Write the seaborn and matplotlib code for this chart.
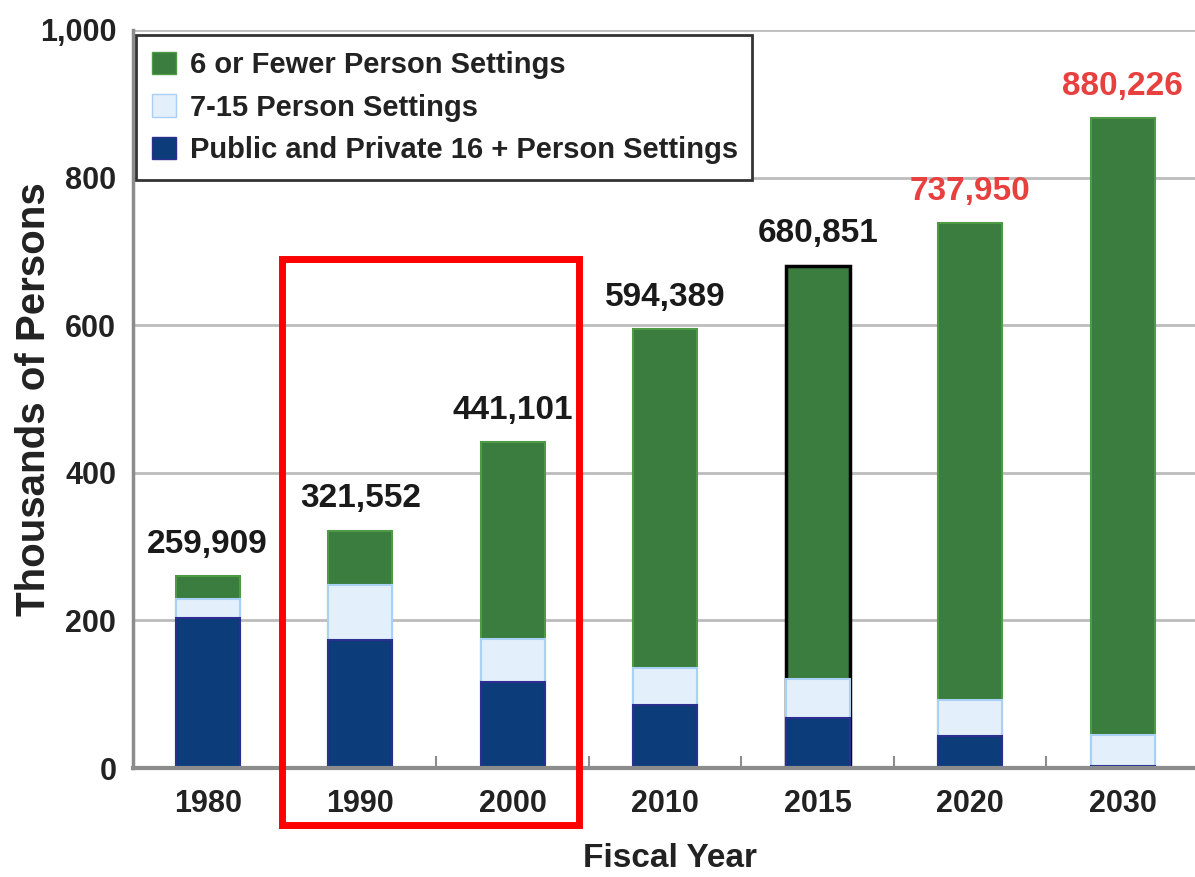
import matplotlib
matplotlib.use("Agg")
import matplotlib.pyplot as plt
import seaborn as sns
from matplotlib.patches import Rectangle, Patch
from matplotlib.ticker import FixedLocator, StrMethodFormatter

# dados (milhares de pessoas)
anos = ['1980', '1990', '2000', '2010', '2015', '2020', '2030']
grandes_16 = [203, 173, 117, 85, 68, 43, 3]        # Public and Private 16+
medios_7_15 = [26, 75, 58, 51, 53, 49, 42]         # 7-15 pessoas
totais = [259.909, 321.552, 441.101, 594.389, 680.851, 737.950, 880.226]
rotulos = ['259,909', '321,552', '441,101', '594,389', '680,851', '737,950', '880,226']
projecao = [False, False, False, False, False, True, True]

legenda_txt = ['6 or Fewer Person Settings', '7-15 Person Settings',
               'Public and Private 16 + Person Settings']

verde = '#3a7d3e'
azul_claro = '#e3effb'
azul_escuro = '#0c3c7a'
vermelho = '#e8403f'

sns.set_theme(style="white")
plt.rcParams['font.family'] = ['Liberation Sans', 'DejaVu Sans']
plt.rcParams['font.weight'] = 'bold'

fig = plt.figure(figsize=(11.95, 8.77), dpi=100)
ax = fig.add_axes([133 / 1195, 1 - 768 / 877, (1199 - 133) / 1195, (768 - 30) / 877])

# barras empilhadas: desenha o total e vai cobrindo por cima
ate_medios = [g + m for g, m in zip(grandes_16, medios_7_15)]
sns.barplot(x=anos, y=totais, color=verde, saturation=1, width=0.42, errorbar=None,
            edgecolor='#4f9a45', linewidth=1.5, ax=ax)
# 2015 tem contorno preto no original
ax.patches[4].set_edgecolor('black')
ax.patches[4].set_linewidth(2.5)
sns.barplot(x=anos, y=ate_medios, color=azul_claro, saturation=1, width=0.42, errorbar=None,
            edgecolor='#a9d0f5', linewidth=1.5, ax=ax)
sns.barplot(x=anos, y=grandes_16, color=azul_escuro, saturation=1, width=0.42, errorbar=None,
            edgecolor='#2b2f8f', linewidth=1.5, ax=ax)

ax.set_xlim(-0.49, 6.5)
ax.set_ylim(0, 1000)
ax.set_yticks(range(0, 1001, 200))
ax.yaxis.set_major_formatter(StrMethodFormatter('{x:,.0f}'))
ax.xaxis.set_minor_locator(FixedLocator([i + 0.5 for i in range(len(anos) - 1)]))

ax.yaxis.grid(True, color='#bcbcbc', linewidth=2)
ax.set_axisbelow(True)
for lado in ['top', 'right']:
    ax.spines[lado].set_visible(False)
ax.spines['left'].set_color('#8c8c8c')
ax.spines['left'].set_linewidth(2.5)
ax.spines['bottom'].set_color('#8c8c8c')
ax.spines['bottom'].set_linewidth(3)

ax.tick_params(axis='x', which='major', length=0, pad=15, labelsize=22, colors='#222222')
ax.tick_params(axis='x', which='minor', direction='in', length=9, width=1.5, color='#8c8c8c', bottom=True)
ax.tick_params(axis='y', length=0, pad=12, labelsize=22, colors='#222222')
for lbl in ax.get_xticklabels() + ax.get_yticklabels():
    lbl.set_fontweight('bold')

# totais em cima das barras
for i, (t, r, p) in enumerate(zip(totais, rotulos, projecao)):
    ax.annotate(r, (i, t), xytext=(0, 17), textcoords='offset points', ha='center',
                va='baseline', fontsize=24, fontweight='bold',
                color=vermelho if p else '#1a1a1a')

ax.set_ylabel('Thousands of Persons', fontsize=29, fontweight='bold', color='#222222')
ax.yaxis.set_label_coords(-0.075, 0.5)
ax.set_xlabel('Fiscal Year', fontsize=24, fontweight='bold', color='#222222')
ax.xaxis.set_label_coords(0.504, -0.102)

handles = [Patch(facecolor=verde, edgecolor='#4f9a45'),
           Patch(facecolor=azul_claro, edgecolor='#a9d0f5'),
           Patch(facecolor=azul_escuro, edgecolor='#2b2f8f')]
leg = ax.legend(handles, legenda_txt, loc='upper left',
                bbox_to_anchor=(0.003, 0, (752 - 136) / 1066, 0.993), mode='expand',
                borderaxespad=0, frameon=True, fancybox=False, framealpha=1,
                handlelength=0.8, handleheight=0.8, handletextpad=0.5,
                labelspacing=0.5, borderpad=0.55,
                prop={'size': 21, 'weight': 'bold'})
leg.get_frame().set_edgecolor('#333333')
leg.get_frame().set_linewidth(2)
for txt in leg.get_texts():
    txt.set_color('#222222')

# destaque vermelho em 1990-2000
fig.add_artist(Rectangle((282 / 1195, 1 - 825 / 877), (579 - 282) / 1195, (825 - 259) / 877,
                         transform=fig.transFigure, fill=False, edgecolor='#ff0000',
                         linewidth=5, clip_on=False))

fig.savefig('out.png', dpi=100)
